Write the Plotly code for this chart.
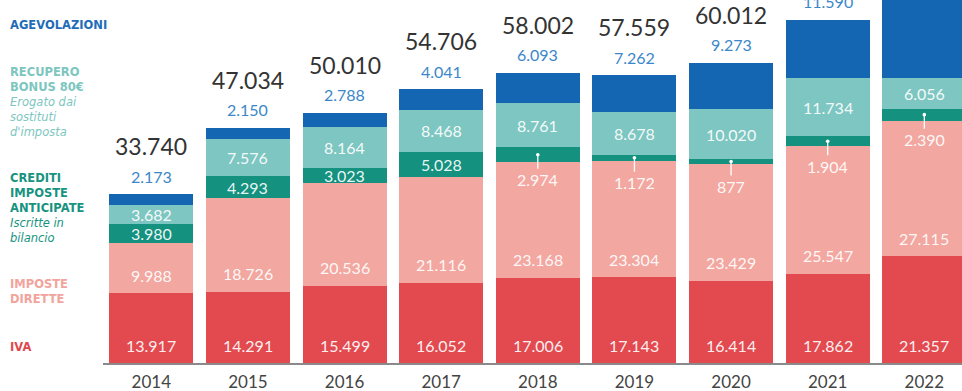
import plotly.graph_objects as go

years = ["2014", "2015", "2016", "2017", "2018", "2019", "2020", "2021", "2022"]
iva = [13917, 14291, 15499, 16052, 17006, 17143, 16414, 17862, 21357]
imposte_dirette = [9988, 18726, 20536, 21116, 23168, 23304, 23429, 25547, 27115]
crediti = [3980, 4293, 3023, 5028, 2974, 1172, 877, 1904, 2390]
recupero = [3682, 7576, 8164, 8468, 8761, 8678, 10020, 11734, 6056]
agevolazioni = [2173, 2150, 2788, 4041, 6093, 7262, 9273, 11590, 20000]
totali = [33740, 47034, 50010, 54706, 58002, 57559, 60012, 68637, 76918]


def fmt(v):
    return f"{v:,}".replace(",", ".")


C_IVA = "#E34A4F"
C_DIR = "#F2A7A0"
C_CRE = "#14917F"
C_REC = "#7EC6C1"
C_AGE = "#1466B2"

W, H = 962, 391
ML, MR, MT, MB = 103, 0, 0, 28
PW, PH = W - ML - MR, H - MT - MB

FONT = "Lato"
fig = go.Figure()
series = [
    ("IVA", iva, C_IVA),
    ("Imposte dirette", imposte_dirette, C_DIR),
    ("Crediti", crediti, C_CRE),
    ("Recupero", recupero, C_REC),
    ("Agevolazioni", agevolazioni, C_AGE),
]
for name, vals, col in series:
    fig.add_trace(go.Bar(x=years, y=vals, name=name, marker=dict(color=col, line=dict(width=0)),
                         hoverinfo="skip", showlegend=False))

ann = []
white = "rgba(255,255,255,0.93)"
for i, yr in enumerate(years):
    b1 = iva[i]
    b2 = b1 + imposte_dirette[i]
    b3 = b2 + crediti[i]
    b4 = b3 + recupero[i]
    top = b4 + agevolazioni[i]
    # IVA
    ann.append(dict(x=i, y=0, yshift=18, text=fmt(iva[i]), showarrow=False,
                    font=dict(family=FONT, size=16, color=white)))
    # Imposte dirette
    ann.append(dict(x=i, y=b1, yshift=18, text=fmt(imposte_dirette[i]), showarrow=False,
                    font=dict(family=FONT, size=16, color=white)))
    # Crediti
    if i < 4:
        ann.append(dict(x=i, y=(b2 + b3) / 2, text=fmt(crediti[i]), showarrow=False,
                        font=dict(family=FONT, size=16, color=white)))
    else:
        ann.append(dict(x=i, y=(b2 + b3) / 2, ax=0, ay=25, text=fmt(crediti[i]), showarrow=True,
                        arrowhead=6, arrowsize=0.7, arrowwidth=1.3, arrowcolor="white",
                        font=dict(family=FONT, size=16, color=white)))
    # Recupero
    ann.append(dict(x=i, y=(b3 + b4) / 2, text=fmt(recupero[i]), showarrow=False,
                    font=dict(family=FONT, size=16, color=white)))
    # Agevolazioni (above bar)
    ann.append(dict(x=i, y=top, yshift=18, text=fmt(agevolazioni[i]), showarrow=False,
                    font=dict(family=FONT, size=16, color="#3B87C9")))
    # Totale
    ann.append(dict(x=i, y=top, yshift=48, text=fmt(totali[i]), showarrow=False,
                    font=dict(family=FONT, size=23, color="#333333")))


def px_x(p):
    return (p - ML) / PW


def px_y(p):
    return 1 - (p - MT) / PH


legend_blocks = [
    ("<b>AGEVOLAZIONI</b>", "#1F6DB8", 17),
    ("<b>RECUPERO<br>BONUS 80€</b><br><i>Erogato dai<br>sostituti<br>d'imposta</i>", "#7DC6BF", 64),
    ("<b>CREDITI<br>IMPOSTE<br>ANTICIPATE</b><br><i>Iscritte in<br>bilancio</i>", "#17937F", 170),
    ("<b>IMPOSTE<br>DIRETTE</b>", "#F2A39B", 276),
    ("<b>IVA</b>", "#E0474C", 339),
]
for txt, col, ytop in legend_blocks:
    ann.append(dict(xref="paper", yref="paper", x=px_x(9), y=px_y(ytop), xanchor="left", yanchor="top",
                    align="left", text=txt, showarrow=False, borderpad=0,
                    font=dict(family="DejaVu Sans", size=11.5, color=col)))

fig.update_layout(
    barmode="stack",
    bargap=0.13,
    width=W, height=H,
    margin=dict(l=ML, r=MR, t=MT, b=MB, autoexpand=False),
    paper_bgcolor="white", plot_bgcolor="white",
    annotations=ann,
    xaxis=dict(type="category", range=[-0.5, 8.39], showgrid=False, zeroline=False,
               showline=True, linecolor="#8a8a8a", linewidth=1.5,
               tickfont=dict(family=FONT, size=17, color="#444444"), ticks="",
               ticklabelstandoff=3, automargin=False, fixedrange=True),
    yaxis=dict(range=[0, 72600], visible=False, showgrid=False, zeroline=False, fixedrange=True),
)
fig.write_html("out.html")
